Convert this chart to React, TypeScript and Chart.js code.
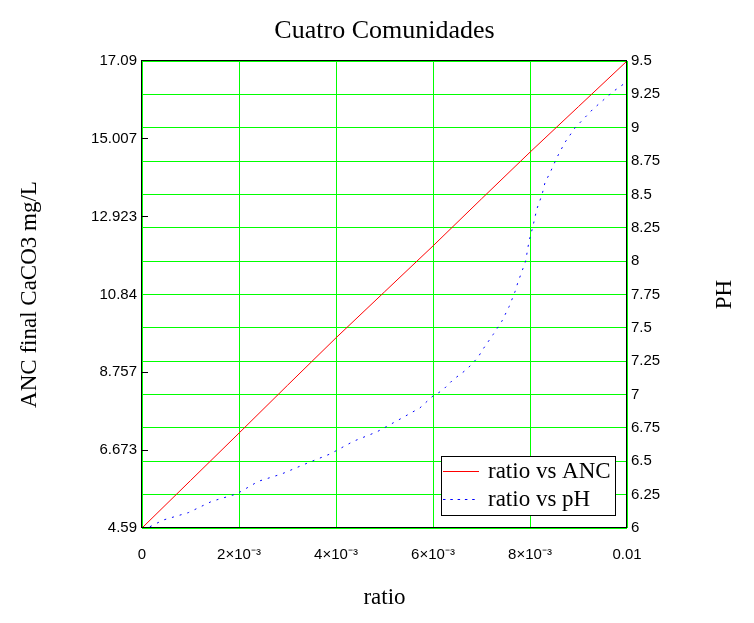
import { useEffect, useRef } from "react"
import { Chart, registerables } from "chart.js"

Chart.register(...registerables)

const chartTitle = "Cuatro Comunidades"
const xAxisTitle = "ratio"
const ancAxisTitle = "ANC final CaCO3 mg/L"
const phAxisTitle = "PH"
const seriesLabels = ["ratio vs ANC", "ratio vs pH"]

// ANC curve (left axis)
const ancRatio = [0, 0.001, 0.002, 0.003, 0.004, 0.005, 0.006, 0.007, 0.008, 0.009, 0.01]
const ancValues = [4.59, 5.86, 7.13, 8.41, 9.68, 10.91, 12.14, 13.4, 14.65, 15.87, 17.09]

// pH curve (right axis)
const phRatio = [
  0, 0.000165, 0.00044, 0.000955, 0.00144, 0.00195, 0.0024, 0.00288, 0.0034, 0.00388, 0.00436,
  0.00484, 0.00529, 0.00573, 0.006, 0.00619, 0.00641, 0.0067, 0.00693, 0.00703, 0.00724,
  0.00742, 0.00757, 0.00769, 0.00775, 0.00786, 0.00791, 0.00798, 0.00806, 0.00814, 0.00825,
  0.00831, 0.00841, 0.00856, 0.00872, 0.00893, 0.0093, 0.00971, 0.01,
]
const phValues = [
  6.0, 6.01, 6.06, 6.115, 6.2, 6.255, 6.35, 6.405, 6.485, 6.555, 6.65,
  6.72, 6.81, 6.9, 6.99, 7.03, 7.11, 7.19, 7.28, 7.34, 7.45,
  7.55, 7.66, 7.77, 7.84, 7.95, 8.0, 8.15, 8.26, 8.39, 8.5,
  8.59, 8.66, 8.78, 8.89, 9.0, 9.14, 9.27, 9.345,
]

const xTicks = [0, 0.002, 0.004, 0.006, 0.008, 0.01]
const xTickLabels = ["0", "2×10⁻³", "4×10⁻³", "6×10⁻³", "8×10⁻³", "0.01"]
const ancTicks = [4.59, 6.673, 8.757, 10.84, 12.923, 15.007, 17.09]
const phTicks = [6, 6.25, 6.5, 6.75, 7, 7.25, 7.5, 7.75, 8, 8.25, 8.5, 8.75, 9, 9.25, 9.5]

const SANS = "'Liberation Sans', Arial, sans-serif"
const SERIF = "'Liberation Serif', 'Times New Roman', serif"
const GRID = "#00ff00"

const framePlugin = {
  id: "plotFrame",
  afterDatasetsDraw(chart: Chart) {
    const { ctx, chartArea: a } = chart
    const l = Math.round(a.left)
    const t = Math.round(a.top)
    const r = Math.round(a.right)
    const b = Math.round(a.bottom)
    ctx.save()
    ctx.strokeStyle = "#000"
    ctx.lineWidth = 1
    ctx.setLineDash([])
    ctx.strokeRect(l - 0.5, t - 0.5, r - l, b - t)
    ctx.restore()
  },
}

const legendBoxPlugin = {
  id: "legendBox",
  afterDraw(chart: Chart) {
    const { ctx, chartArea: a } = chart
    const left = Math.round(a.right) - 186
    const top = Math.round(a.bottom) - 72
    const w = 174
    const h = 59
    ctx.save()
    ctx.fillStyle = "#fff"
    ctx.fillRect(left, top, w, h)
    ctx.strokeStyle = "#000"
    ctx.lineWidth = 1
    ctx.strokeRect(left + 0.5, top + 0.5, w, h)
    chart.data.datasets.forEach((ds: any, i: number) => {
      const y = top + 15 + i * 28
      ctx.strokeStyle = ds.borderColor
      ctx.setLineDash(i === 1 ? [2.5, 4.8] : [])
      ctx.beginPath()
      ctx.moveTo(left + 2, y + 0.5)
      ctx.lineTo(left + 38, y + 0.5)
      ctx.stroke()
      ctx.setLineDash([])
      ctx.fillStyle = "#000"
      ctx.font = `23px ${SERIF}`
      ctx.textBaseline = "alphabetic"
      ctx.textAlign = "left"
      ctx.fillText(ds.label, left + 47, y + 7)
    })

    // right axis title, reads bottom-to-top like the left one
    ctx.translate(chart.width - 29, (a.top + a.bottom) / 2)
    ctx.rotate(-Math.PI / 2)
    ctx.font = `23px ${SERIF}`
    ctx.textAlign = "center"
    ctx.textBaseline = "middle"
    ctx.fillStyle = "#000"
    ctx.fillText(phAxisTitle, 0, 0)
    ctx.restore()
  },
}

export default function App() {
  const chartRef = useRef<HTMLCanvasElement>(null)
  const chartInstance = useRef<Chart | null>(null)

  useEffect(() => {
    document.body.style.margin = "0"
    if (!chartRef.current) return
    if (chartInstance.current) chartInstance.current.destroy()

    const ctx = chartRef.current.getContext("2d")
    if (!ctx) return

    chartInstance.current = new Chart(ctx, {
      type: "line",
      data: {
        datasets: [
          {
            label: seriesLabels[0],
            data: ancRatio.map((x, i) => ({ x, y: ancValues[i] })),
            yAxisID: "anc",
            borderColor: "#ff0000",
            borderWidth: 1,
            pointRadius: 0,
            fill: false,
          },
          {
            label: seriesLabels[1],
            data: phRatio.map((x, i) => ({ x, y: phValues[i] })),
            yAxisID: "ph",
            borderColor: "#0000ff",
            borderWidth: 1,
            borderDash: [2, 6],
            pointRadius: 0,
            fill: false,
          },
        ],
      },
      options: {
        responsive: false,
        animation: false,
        layout: { padding: 0 },
        scales: {
          x: {
            type: "linear",
            min: 0,
            max: 0.01,
            afterBuildTicks: (s: any) => {
              s.ticks = xTicks.map((value) => ({ value }))
            },
            afterFit: (s: any) => {
              s.height = 95
            },
            ticks: {
              autoSkip: false,
              maxRotation: 0,
              padding: 18,
              color: "#000",
              font: { family: SANS, size: 15 },
              callback: (_v: any, i: number) => xTickLabels[i],
            },
            grid: { color: GRID, drawTicks: false },
            border: { display: false },
            title: {
              display: true,
              text: xAxisTitle,
              color: "#000",
              font: { family: SERIF, size: 23 },
              padding: { top: 0, bottom: 11 },
            },
          },
          anc: {
            type: "linear",
            position: "left",
            min: 4.59,
            max: 17.09,
            afterBuildTicks: (s: any) => {
              s.ticks = ancTicks.map((value) => ({ value }))
            },
            afterFit: (s: any) => {
              s.width = 142
            },
            ticks: {
              autoSkip: false,
              padding: 11,
              color: "#000",
              font: { family: SANS, size: 15 },
              callback: (_v: any, i: number) => String(ancTicks[i]),
            },
            grid: { drawOnChartArea: false, drawTicks: true, tickLength: -6, color: "#000" },
            border: { display: false },
            title: {
              display: true,
              text: ancAxisTitle,
              color: "#000",
              font: { family: SERIF, size: 23 },
              padding: { top: 16, bottom: 0 },
            },
          },
          ph: {
            type: "linear",
            position: "right",
            min: 6,
            max: 9.5,
            afterBuildTicks: (s: any) => {
              s.ticks = phTicks.map((value) => ({ value }))
            },
            afterFit: (s: any) => {
              s.width = 127
            },
            ticks: {
              autoSkip: false,
              padding: 4,
              color: "#000",
              font: { family: SANS, size: 15 },
              callback: (_v: any, i: number) => String(phTicks[i]),
            },
            grid: { color: GRID, drawTicks: false },
            border: { display: false },
          },
        },
        plugins: {
          legend: { display: false },
          tooltip: { enabled: false },
          title: {
            display: true,
            text: chartTitle,
            fullSize: false,
            color: "#000",
            font: { family: SERIF, size: 26, weight: "normal" },
            padding: { top: 16, bottom: 13.8 },
          },
        },
      },
      plugins: [framePlugin, legendBoxPlugin],
    } as any)

    return () => {
      if (chartInstance.current) {
        chartInstance.current.destroy()
        chartInstance.current = null
      }
    }
  }, [])

  return <canvas ref={chartRef} width={754} height={623}></canvas>
}
